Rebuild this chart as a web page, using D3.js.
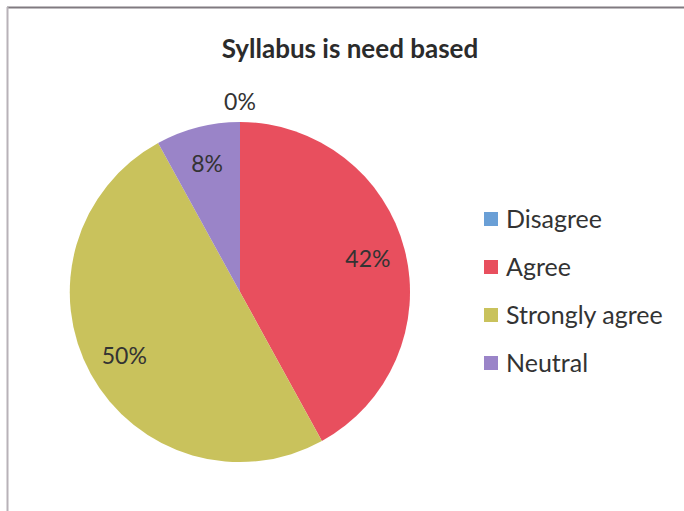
<!DOCTYPE html>
<html><head><meta charset="utf-8">
<script src="https://cdn.jsdelivr.net/npm/d3@7"></script>
<style>body{margin:0;background:#fff}svg{display:block}</style>
</head><body>
<svg id="c" width="684" height="511"></svg>
<script>
const categories = ["Disagree", "Agree", "Strongly agree", "Neutral"];
const values = [0, 42, 50, 8];
const colors = ["#6a9fd6", "#e84f5e", "#c9c25c", "#9a84c8"];
const title = "Syllabus is need based";

const svg = d3.select("#c");
const W = 684, H = 511;
const font = "Lato, 'Open Sans', sans-serif";

svg.append("line").attr("x1", 7).attr("x2", W).attr("y1", 7.5).attr("y2", 7.5)
  .attr("stroke", "#807a80").attr("stroke-width", 2);
svg.append("line").attr("x1", 7.5).attr("x2", 7.5).attr("y1", 7).attr("y2", H)
  .attr("stroke", "#b8b2b8").attr("stroke-width", 2);

svg.append("text").attr("x", 350).attr("y", 58).attr("text-anchor", "middle")
  .attr("font-family", font).attr("font-weight", "bold").attr("font-size", 26)
  .attr("fill", "#2b2b2b").text(title);

const cx = 240, cy = 292, R = 170;
const data = categories.map((c, i) => ({cat: c, v: values[i], col: colors[i]}));
const pie = d3.pie().value(d => d.v).sort(null);
const arcs = pie(data);
const arc = d3.arc().innerRadius(0).outerRadius(R);
const g = svg.append("g").attr("transform", `translate(${cx},${cy})`);
g.selectAll("path").data(arcs).join("path").attr("d", arc).attr("fill", d => d.data.col);

const labelArc = d3.arc().innerRadius(132).outerRadius(132);
const outArc = d3.arc().innerRadius(190).outerRadius(190);
g.selectAll("text.lbl").data(arcs).join("text").attr("class", "lbl")
  .attr("transform", d => `translate(${(d.data.v === 0 ? outArc : labelArc).centroid(d)})`)
  .attr("text-anchor", "middle").attr("dy", "0.35em")
  .attr("font-family", font).attr("font-size", 23).attr("fill", "#333")
  .text(d => Math.round(d.data.v / d3.sum(values) * 100) + "%");

const lg = svg.append("g").attr("transform", "translate(484,219)");
const rows = lg.selectAll("g").data(data).join("g").attr("transform", (d, i) => `translate(0,${i * 48})`);
rows.append("rect").attr("x", 0).attr("y", -7).attr("width", 14).attr("height", 14).attr("fill", d => d.col);
rows.append("text").attr("x", 22).attr("dy", "0.35em").attr("font-family", font).attr("font-size", 25)
  .attr("fill", "#333").text(d => d.cat);
</script>
</body></html>
